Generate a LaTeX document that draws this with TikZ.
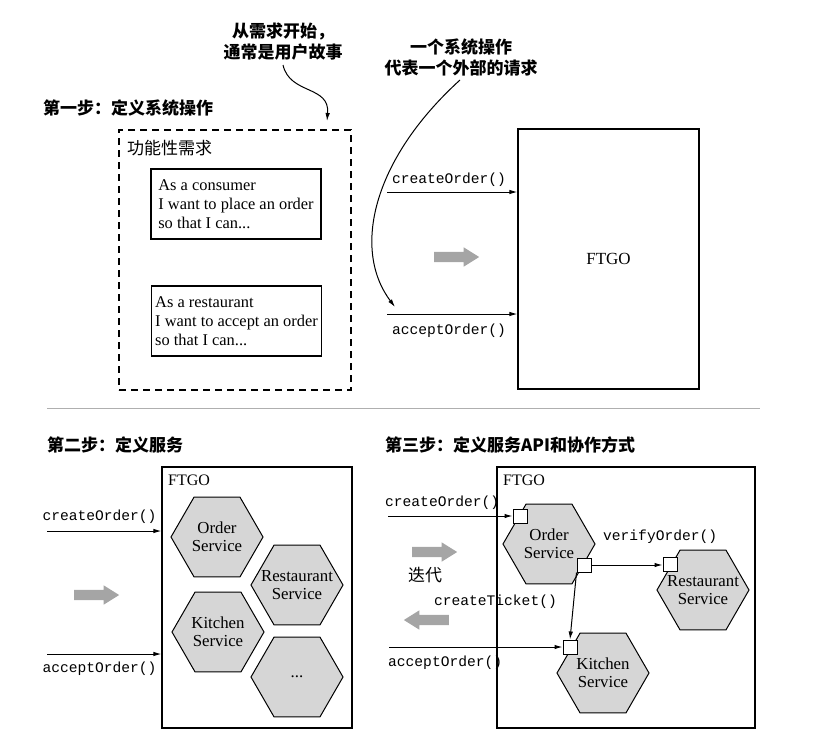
\documentclass[tikz,border=0pt]{standalone}
\usepackage{fontspec}
\setmainfont{Liberation Serif}
\setmonofont{Liberation Mono}
\newfontfamily\cjk{Noto Sans CJK SC}
\usetikzlibrary{arrows.meta,shapes.geometric,shapes.arrows,calc}
\definecolor{hexgray}{RGB}{214,214,214}
\definecolor{bigarrow}{RGB}{165,165,165}
\definecolor{sepline}{RGB}{175,175,175}
\begin{document}
\begin{tikzpicture}[x=1pt,y=-1pt,
  head/.style={font=\cjk\bfseries\fontsize{17}{20}\selectfont, inner sep=0pt, anchor=west},
  note/.style={font=\cjk\bfseries\fontsize{17}{21}\selectfont, inner sep=0pt, align=center},
  plaincjk/.style={font=\cjk\fontsize{17}{20}\selectfont, inner sep=0pt},
  code/.style={font=\ttfamily\fontsize{14.6}{17}\selectfont, inner sep=0pt},
  story/.style={draw, line width=1.1pt, minimum width=170pt, inner sep=0pt, minimum height=70pt, align=left, font=\fontsize{16.4}{19}\selectfont},
  hex/.style={regular polygon, regular polygon sides=6, minimum size=92pt, inner sep=0pt, draw, line width=1pt, fill=hexgray},
  hextext/.style={align=center, inner sep=0pt, font=\fontsize{16.8}{18}\selectfont},
  port/.style={draw, fill=white, line width=1pt, minimum size=14pt, inner sep=0pt},
  flow/.style={-{Latex[length=8pt,width=4.5pt]}, line width=1pt},
  sysbox/.style={draw, line width=1.2pt, inner sep=0pt},
  ftgolabel/.style={font=\fontsize{16}{18}\selectfont, anchor=west, inner sep=0pt},
  fat/.style={single arrow, fill=bigarrow, draw=none, minimum height=45pt, inner sep=5pt, single arrow head extend=4.5pt, single arrow tip angle=64},
]
\useasboundingbox (0,0) rectangle (837,742);

% ---------- Step 1 ----------
\node[note] (n1) at (283,42) {从需求开始，\\通常是用户故事};
\node[note] (n2) at (461,57.5) {一个系统操作\\代表一个外部的请求};
\node[head] (h1) at (43,108) {第一步：定义系统操作};

\node[draw, dash pattern=on 7pt off 5pt, line width=1.1pt, minimum width=232pt, minimum height=260pt, inner sep=0pt] (req) at (235,260) {};
\node[plaincjk, anchor=west] (reqlabel) at (127,148) {功能性需求};
\node[story] (s1) at (236,204) {As a consumer\\I want to place an order\\so that I can...};
\node[story] (s2) at (236.5,321) {As a restaurant\\I want to accept an order\\so that I can...};

\node[sysbox, minimum width=181pt, minimum height=260pt, font=\fontsize{17}{20}\selectfont] (ftgo1) at (608.5,259) {FTGO};

\coordinate (c1) at (387,192);
\coordinate (a1) at (387,314);
\draw[flow] (c1) -- (c1 -| ftgo1.west);
\draw[flow] (a1) -- (a1 -| ftgo1.west);
\node[code] (c1l) at (449,180) {createOrder()};
\node[code] (a1l) at (449,331) {acceptOrder()};

\node[fat] (g1) at (452.5,257) {};

\coordinate (n1s) at (283,65);
\coordinate (n1e) at (327,121);
\draw[flow] (n1s) .. controls (290,95) and (330,85) .. (n1e);
\coordinate (n2s) at (460,80);
\coordinate (n2e) at (395,307);
\draw[flow] (n2s) .. controls (372,160) and (352,250) .. (n2e);

% separator
\coordinate (sepl) at (47,408);
\coordinate (sepr) at (760,408);
\draw[sepline, line width=1pt] (sepl) -- (sepr);

% ---------- Step 2 ----------
\node[head] (h2) at (47,445) {第二步：定义服务};
\node[sysbox, minimum width=190pt, minimum height=261pt] (ftgo2) at (257,597.5) {};
\node[ftgolabel] (f2l) at (168,480) {FTGO};
\node[hex, label={[hextext]center:{Order\\Service}}] (os2) at (217,537) {};
\node[hex, label={[hextext]center:{Restaurant\\Service}}] (rs2) at (297,585) {};
\node[hex, label={[hextext]center:{Kitchen\\Service}}] (ks2) at (218,632) {};
\node[hex, label={[hextext]center:{...}}] (xs2) at (297,677) {};

\coordinate (c2) at (47,531);
\coordinate (a2) at (47,654);
\draw[flow] (c2) -- (c2 -| ftgo2.west);
\draw[flow] (a2) -- (a2 -| ftgo2.west);
\node[code] (c2l) at (99.5,517) {createOrder()};
\node[code] (a2l) at (99.5,669) {acceptOrder()};
\node[fat] (g2) at (92.5,595) {};

% ---------- Step 3 ----------
\node[head] (h3) at (385,445) {第三步：定义服务API和协作方式};
\node[sysbox, minimum width=258pt, minimum height=261pt] (ftgo3) at (626,597.5) {};
\node[ftgolabel] (f3l) at (503,480) {FTGO};
\node[hex, label={[hextext]center:{Order\\Service}}] (os3) at (549,544) {};
\node[hex, label={[hextext]center:{Restaurant\\Service}}] (rs3) at (703,590) {};
\node[hex, label={[hextext]center:{Kitchen\\Service}}] (ks3) at (603,673) {};

\node[port] (p1) at (520,516) {};
\node[port] (p2) at (584,565) {};
\node[port] (p3) at (670,564) {};
\node[port] (p4) at (570,647) {};

\coordinate (c3) at (388,516);
\coordinate (a3) at (389,647);
\draw[flow] (c3) -- (p1.west);
\draw[flow] (a3) -- (p4.west);
\draw[flow] (p2.east) -- (p2.east -| p3.west);
\draw[flow] (p2.south west) -- (p4.north);

\node[code, anchor=west] (c3l) at (385,503) {createOrder()};
\node[code, anchor=west] (a3l) at (388,663) {acceptOrder()};
\node[code, anchor=west] (v3l) at (603,537) {verifyOrder()};
\node[code, anchor=east] (t3l) at (557,602) {createTicket()};

\node[fat] (g3) at (430.5,552) {};
\node[plaincjk] (iter) at (425,575) {迭代};
\node[fat, shape border rotate=180] (g4) at (430.5,620) {};
\end{tikzpicture}
\end{document}
